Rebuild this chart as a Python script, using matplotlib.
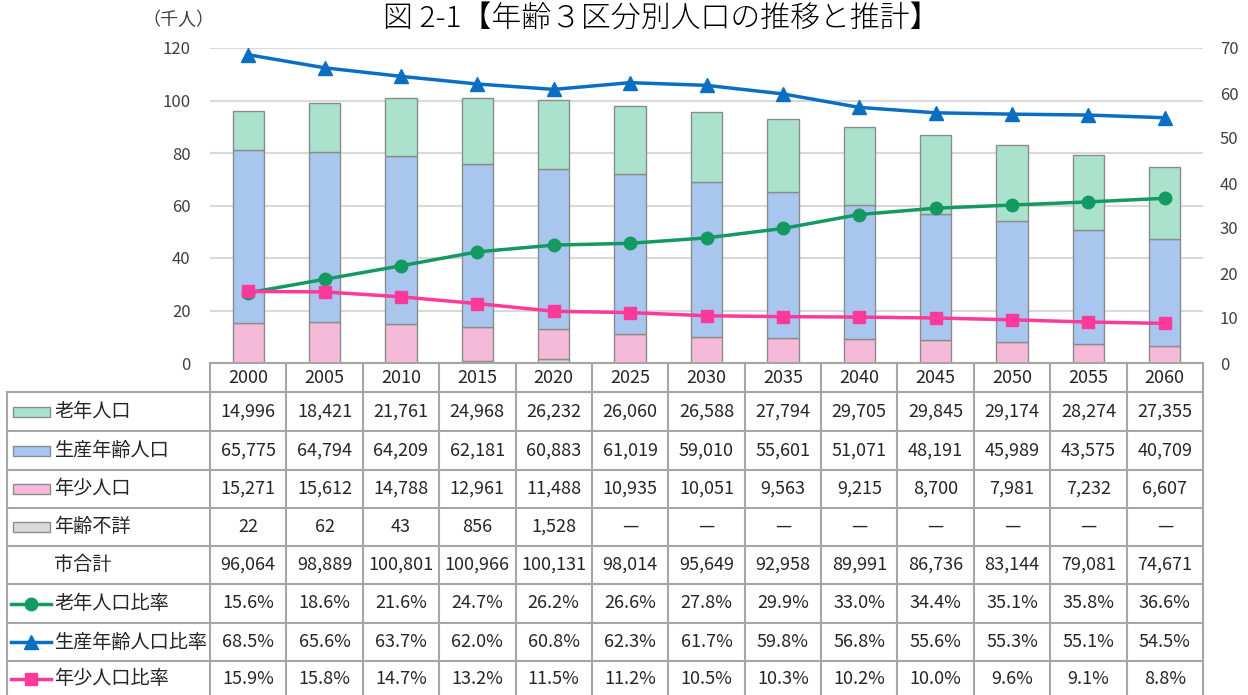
import numpy as np
import matplotlib
matplotlib.use("Agg")
import matplotlib.pyplot as plt
from matplotlib.patches import Rectangle
from matplotlib.lines import Line2D

plt.rcParams['font.family'] = ['Noto Sans CJK JP', 'DejaVu Sans']

years = ['2000', '2005', '2010', '2015', '2020', '2025', '2030', '2035',
         '2040', '2045', '2050', '2055', '2060']
elderly = [14996, 18421, 21761, 24968, 26232, 26060, 26588, 27794, 29705, 29845, 29174, 28274, 27355]
working = [65775, 64794, 64209, 62181, 60883, 61019, 59010, 55601, 51071, 48191, 45989, 43575, 40709]
young = [15271, 15612, 14788, 12961, 11488, 10935, 10051, 9563, 9215, 8700, 7981, 7232, 6607]
unknown = [22, 62, 43, 856, 1528, 0, 0, 0, 0, 0, 0, 0, 0]
total = [96064, 98889, 100801, 100966, 100131, 98014, 95649, 92958, 89991, 86736, 83144, 79081, 74671]
elderly_rate = [15.6, 18.6, 21.6, 24.7, 26.2, 26.6, 27.8, 29.9, 33.0, 34.4, 35.1, 35.8, 36.6]
working_rate = [68.5, 65.6, 63.7, 62.0, 60.8, 62.3, 61.7, 59.8, 56.8, 55.6, 55.3, 55.1, 54.5]
young_rate = [15.9, 15.8, 14.7, 13.2, 11.5, 11.2, 10.5, 10.3, 10.2, 10.0, 9.6, 9.1, 8.8]

c_eld, c_work, c_young, c_unk = '#aae2cd', '#a9c7ee', '#f4bad8', '#d9d9d9'
l_eld, l_work, l_young = '#139a62', '#0a6fc2', '#fb3a9b'

W, H = 1248, 695
fig = plt.figure(figsize=(W / 100, H / 100), dpi=100)

# chart area in pixels
x0, x1, ytop, ybot = 210, 1203, 48, 363
ax = fig.add_axes([x0 / W, 1 - ybot / H, (x1 - x0) / W, (ybot - ytop) / H])
x = np.arange(len(years))
k = lambda v: np.array(v) / 1000
bw = 0.41
ec = '#8c8c8c'
b0 = k(unknown)
b1 = b0 + k(young)
b2 = b1 + k(working)
ax.bar(x, k(unknown), bw, color=c_unk, edgecolor=ec, lw=1, zorder=2)
ax.bar(x, k(young), bw, bottom=b0, color=c_young, edgecolor=ec, lw=1, zorder=2)
ax.bar(x, k(working), bw, bottom=b1, color=c_work, edgecolor=ec, lw=1, zorder=2)
ax.bar(x, k(elderly), bw, bottom=b2, color=c_eld, edgecolor=ec, lw=1, zorder=2)
ax.set_xlim(-0.5, len(years) - 0.5)
ax.set_ylim(0, 120)
ax.set_yticks(range(0, 121, 20))
ax.set_xticks([])
ax.grid(axis='y', color='#d9d9d9', lw=1.5, zorder=0)
ax.set_axisbelow(True)
for s in ax.spines.values():
    s.set_visible(False)
ax.tick_params(axis='y', length=0, labelsize=12, labelcolor='#404040', pad=14)

ax2 = ax.twinx()
ax2.set_ylim(0, 70)
ax2.set_yticks(range(0, 71, 10))
for s in ax2.spines.values():
    s.set_visible(False)
ax2.tick_params(axis='y', length=0, labelsize=12, labelcolor='#404040', pad=12)
ax2.plot(x, elderly_rate, color=l_eld, lw=2.5, marker='o', ms=9, zorder=3)
ax2.plot(x, working_rate, color=l_work, lw=2.5, marker='^', ms=10, zorder=3)
ax2.plot(x, young_rate, color=l_young, lw=2.5, marker='s', ms=9, zorder=3)

fig.text(661 / W, 1 - 18 / H, '図 2-1【年齢３区分別人口の推移と推計】', ha='center', va='center',
         fontsize=21.5, fontweight='light')
fig.text(178 / W, 1 - 20 / H, '（千人）', ha='center', va='center', fontsize=13, color='#404040')

# table drawn in pixel coordinates
tb = fig.add_axes([0, 0, 1, 1])
tb.set_xlim(0, W)
tb.set_ylim(H, 0)
tb.axis('off')
gc = '#a6a6a6'
cw = (x1 - x0) / len(years)
rows_y = [363, 392, 431, 470, 508, 546, 584, 623, 661, 700]
tl = 7

# year header row
tb.plot([x0, x1], [363, 363], color=gc, lw=1.5)
for i, yr in enumerate(years):
    tb.text(x0 + cw * (i + 0.5), 378, yr, ha='center', va='center', fontsize=13, color='#262626')
for yy in rows_y[1:]:
    tb.plot([tl, x1], [yy, yy], color=gc, lw=1.5)
tb.plot([tl, tl], [392, 700], color=gc, lw=1.5)
for i in range(len(years) + 1):
    tb.plot([x0 + cw * i] * 2, [363, 700], color=gc, lw=1.5)

fmt_n = lambda v: f'{v:,}'
fmt_u = lambda v: f'{v:,}' if v else '—'
fmt_p = lambda v: f'{v:.1f}%'
rows = [
    ('老年人口', elderly, fmt_n, ('patch', c_eld)),
    ('生産年齢人口', working, fmt_n, ('patch', c_work)),
    ('年少人口', young, fmt_n, ('patch', c_young)),
    ('年齢不詳', unknown, fmt_u, ('patch', c_unk)),
    ('市合計', total, fmt_n, None),
    ('老年人口比率', elderly_rate, fmt_p, ('line', l_eld, 'o')),
    ('生産年齢人口比率', working_rate, fmt_p, ('line', l_work, '^')),
    ('年少人口比率', young_rate, fmt_p, ('line', l_young, 's')),
]
for r, (label, vals, f, key) in enumerate(rows):
    yc = (rows_y[r + 1] + rows_y[r + 2]) / 2
    if r == len(rows) - 1:
        yc = 679
    tb.text(54, yc, label, ha='left', va='center', fontsize=13.8, color='#262626')
    if key is not None and key[0] == 'patch':
        tb.add_patch(Rectangle((13, yc - 5), 37, 10, facecolor=key[1], edgecolor='#8c8c8c', lw=1))
    elif key is not None:
        tb.add_line(Line2D([11, 51], [yc, yc], color=key[1], lw=2.5))
        tb.plot([31], [yc], marker=key[2], color=key[1], ms=9 if key[2] != '^' else 10)
    for i, v in enumerate(vals):
        tb.text(x0 + cw * (i + 0.5), yc, f(v), ha='center', va='center', fontsize=13, color='#262626')

fig.savefig('out.png', dpi=100)
